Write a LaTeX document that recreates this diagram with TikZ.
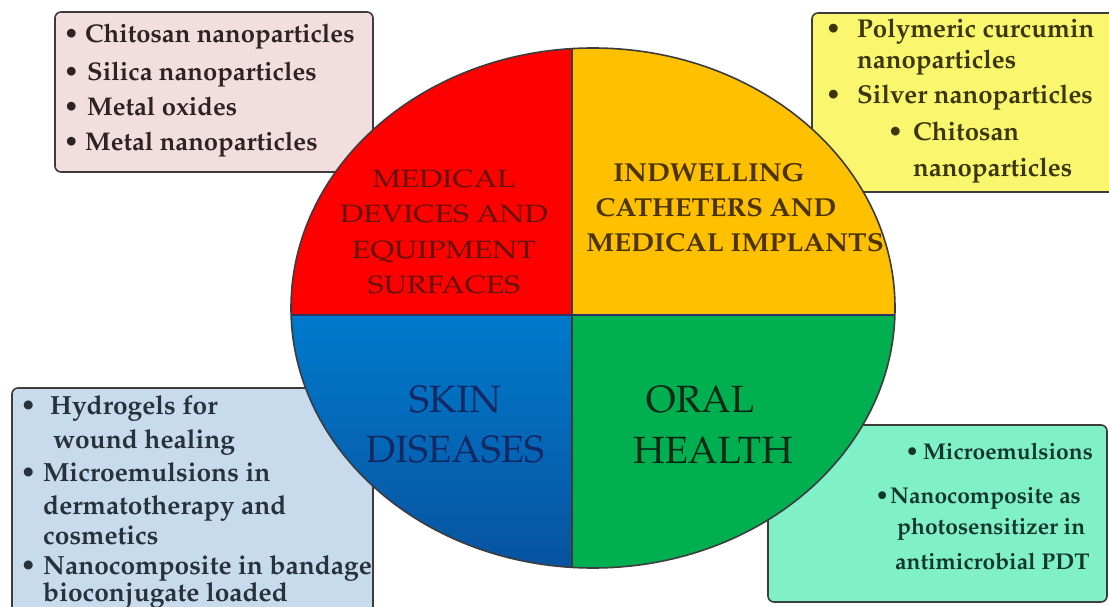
\documentclass[tikz,border=0pt]{standalone}
\usepackage[T1]{fontenc}
\usepackage{graphicx}
\renewcommand\rmdefault{ppl}
\definecolor{qred}{RGB}{255,0,0}
\definecolor{qyel}{RGB}{255,192,0}
\definecolor{qgrn}{RGB}{0,176,80}
\definecolor{qblut}{RGB}{0,122,204}
\definecolor{qblub}{RGB}{8,82,158}
\definecolor{bpink}{RGB}{242,221,223}
\definecolor{byel}{RGB}{250,246,110}
\definecolor{bblue}{RGB}{199,219,236}
\definecolor{bgrn}{RGB}{128,240,200}
\definecolor{edge}{RGB}{60,60,60}
\definecolor{tpink}{RGB}{45,35,35}
\definecolor{tyel}{RGB}{60,55,10}
\definecolor{tblue}{RGB}{40,50,60}
\definecolor{tgrn}{RGB}{20,55,45}
\definecolor{tmed}{RGB}{95,20,12}
\definecolor{tind}{RGB}{75,52,0}
\definecolor{tskin}{RGB}{20,40,100}
\definecolor{toral}{RGB}{10,40,20}
\newcommand\bl[1]{\llap{\textbullet\hspace{#1pt}}}
\begin{document}
\begin{tikzpicture}[x=1pt,y=-1pt,
  boxst/.style={draw=edge,line width=1.6pt,rounded corners=6pt},
  itm/.style={anchor=west,inner sep=0pt,text height=17pt,text depth=5pt},
  fpink/.style={font=\fontsize{25.6}{30}\selectfont\bfseries},
  fyel/.style={font=\fontsize{25.8}{30}\selectfont\bfseries},
  fblue/.style={font=\fontsize{26.3}{30}\selectfont\bfseries},
  fgrn/.style={font=\fontsize{22.8}{27}\selectfont\bfseries},
  quad/.style={inner sep=0pt,align=center}]
\useasboundingbox (0,0) rectangle (1109,607);
\clip (0,0) rectangle (1109,607);
% boxes
\draw[boxst,fill=bpink] (55,12) rectangle (373,172);
\draw[boxst,fill=byel] (812,13) rectangle (1130,192);
\draw[boxst,fill=bblue] (12,388) rectangle (373,630);
\draw[boxst,fill=bgrn] (768,425) rectangle (1107,602);
% ellipse quadrants
\begin{scope}
  \clip (593,308) ellipse [x radius=302, y radius=260];
  \fill[qred] (280,40) rectangle (572,315);
  \fill[qyel] (572,40) rectangle (900,315);
  \shade[top color=qblut,bottom color=qblub] (280,315) rectangle (572,575);
  \fill[qgrn] (572,315) rectangle (900,575);
  \draw[edge,line width=1.2pt] (572,40) -- (572,575);
  \draw[edge!80!blue,line width=1.2pt] (280,315) -- (900,315);
\end{scope}
\draw[edge,line width=1.6pt] (593,308) ellipse [x radius=302, y radius=260];
% quadrant titles
\node[quad,text=tmed,font=\fontsize{25}{35.5}\selectfont] (med) at (444,232)
  {\scalebox{1.2}[1]{MEDICAL}\\\scalebox{1.2}[1]{DEVICES AND}\\\scalebox{1.2}[1]{EQUIPMENT}\\\scalebox{1.2}[1]{SURFACES}};
\node[quad,text=tind,font=\fontsize{26}{35}\selectfont\bfseries] (ind1) at (709,173)
  {\scalebox{1.06}[1]{INDWELLING}};
\node[quad,text=tind,font=\fontsize{26}{35}\selectfont\bfseries] (ind2) at (716,208)
  {\scalebox{1.05}[1]{CATHETERS AND}};
\node[quad,text=tind,font=\fontsize{26}{35}\selectfont\bfseries] (ind3) at (735,243)
  {\scalebox{1.07}[1]{MEDICAL IMPLANTS}};
\node[quad,text=tskin,font=\fontsize{38}{50}\selectfont] (skin) at (455,425)
  {SKIN\\DISEASES};
\node[quad,text=toral,font=\fontsize{38}{50}\selectfont] (oral1) at (700,400)
  {ORAL};
\node[quad,text=toral,font=\fontsize{38}{50}\selectfont] (oral2) at (713,450)
  {HEALTH};
% pink box text
\node[itm,fpink,text=tpink] (p1) at (85,37) {\bl{6}Chitosan nanoparticles};
\node[itm,fpink,text=tpink] (p2) at (87,75) {\bl{8}Silica nanoparticles};
\node[itm,fpink,text=tpink] (p3) at (87,110) {\bl{8}Metal oxides};
\node[itm,fpink,text=tpink] (p4) at (85,145) {\bl{6}Metal nanoparticles};
% yellow box text
\node[itm,fyel,text=tyel] (y1) at (857,32) {\bl{16}Polymeric curcumin};
\node[itm,fyel,text=tyel] (y2) at (857,63) {nanoparticles};
\node[itm,fyel,text=tyel] (y3) at (857,98) {\bl{16}Silver nanoparticles};
\node[itm,fyel,text=tyel] (y4) at (913,135) {\bl{10}Chitosan};
\node[itm,fyel,text=tyel] (y5) at (913,170) {nanoparticles};
% blue box text
\node[itm,fblue,text=tblue] (b1) at (50,408) {\bl{14}Hydrogels for};
\node[itm,fblue,text=tblue] (b2) at (53,442) {wound\ healing};
\node[itm,fblue,text=tblue] (b3) at (43,475) {\bl{7}Microemulsions in};
\node[itm,fblue,text=tblue] (b4) at (43,508) {dermatotherapy and};
\node[itm,fblue,text=tblue] (b5) at (43,538) {cosmetics};
\node[itm,fblue,text=tblue] (b6) at (43,568) {\bl{7}Nanocomposite in bandage};
\node[itm,fblue,text=tblue] (b7) at (43,595) {bioconjugate loaded};
% green box text
\node[itm,fgrn,text=tgrn] (g1) at (923,453) {\bl{4}Microemulsions};
\node[itm,fgrn,text=tgrn] (g2) at (890,497) {\bl{1}Nanocomposite as};
\node[itm,fgrn,text=tgrn] (g3) at (897,528) {photosensitizer in};
\node[itm,fgrn,text=tgrn] (g4) at (895,563) {antimicrobial PDT};
\end{tikzpicture}
\end{document}
